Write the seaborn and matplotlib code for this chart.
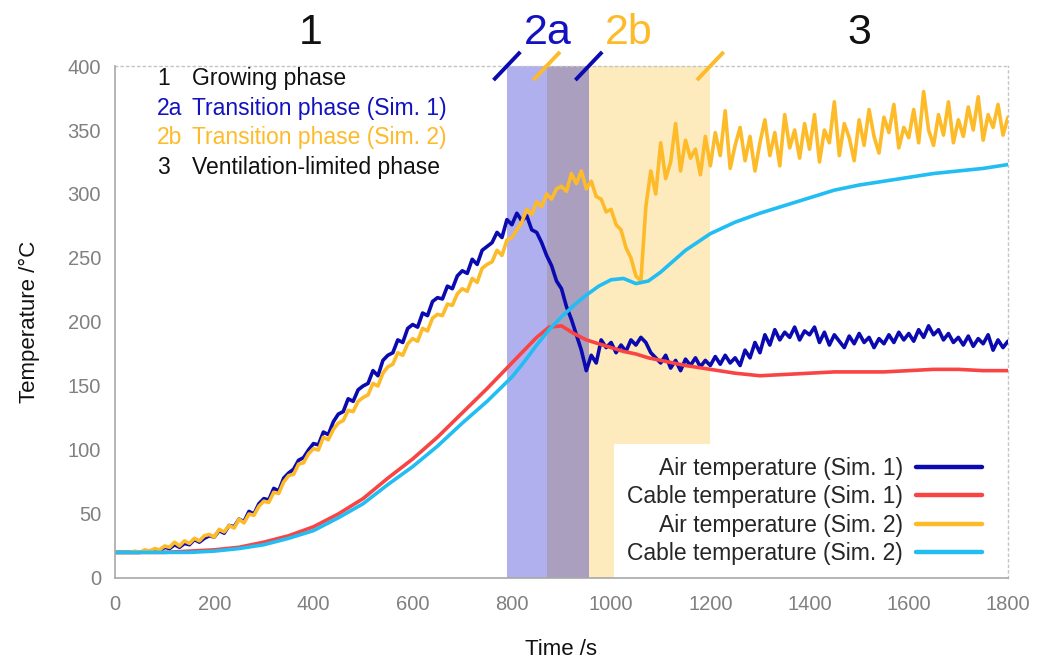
import numpy as np
import pandas as pd
import matplotlib
matplotlib.use("Agg")
import matplotlib.pyplot as plt
import seaborn as sns

# ---------------- data ----------------
t_air = np.arange(0, 1801, 10)
air_sim1 = [
    20, 20, 20, 20, 20, 20, 21, 21, 22, 21,
    24, 23, 26, 24, 27, 26, 30, 28, 31, 33,
    32, 37, 35, 41, 40, 46, 44, 52, 50, 58,
    62, 61, 70, 68, 78, 82, 85, 92, 94, 100,
    105, 104, 114, 112, 122, 128, 130, 140, 138, 147,
    150, 152, 162, 158, 170, 174, 176, 186, 184, 195,
    198, 196, 207, 205, 216, 219, 218, 228, 226, 236,
    240, 238, 249, 245, 256, 259, 262, 270, 266, 280,
    276, 285, 279, 283, 272, 270, 262, 252, 244, 232,
    226, 212, 202, 190, 178, 162, 174, 168, 186, 180,
    184, 176, 182, 177, 186, 182, 188, 184, 176, 172,
    168, 174, 164, 170, 162, 171, 166, 172, 165, 170,
    166, 173, 167, 174, 168, 172, 166, 178, 172, 184,
    176, 190, 182, 194, 186, 192, 188, 196, 186, 193,
    190, 196, 184, 192, 182, 190, 185, 180, 189, 183,
    191, 184, 188, 180, 187, 183, 190, 184, 192, 186,
    191, 185, 194, 188, 197, 190, 194, 186, 191, 184,
    188, 182, 189, 181, 187, 183, 190, 178, 186, 180,
    185,
]
air_sim2 = [
    20, 20, 20, 20, 21, 20, 22, 21, 23, 22,
    25, 24, 28, 25, 29, 27, 31, 29, 33, 34,
    32, 38, 36, 41, 39, 46, 43, 50, 49, 56,
    60, 59, 67, 66, 75, 80, 81, 89, 90, 97,
    101, 100, 110, 108, 116, 121, 123, 131, 130, 138,
    141, 143, 152, 150, 160, 165, 167, 176, 174, 183,
    187, 185, 195, 193, 203, 206, 205, 214, 213, 222,
    226, 224, 234, 231, 242, 245, 247, 256, 252, 264,
    266, 272, 278, 288, 284, 294, 290, 300, 296, 304,
    306, 302, 316, 308, 318, 304, 310, 298, 296, 286,
    288, 276, 272, 258, 250, 236, 232, 290, 318, 300,
    340, 312, 325, 355, 318, 342, 328, 335, 315, 345,
    322, 348, 330, 365, 320, 338, 352, 326, 345, 318,
    340, 358, 330, 348, 322, 362, 336, 350, 328, 355,
    335, 362, 325, 350, 340, 372, 330, 355, 344, 326,
    358, 338, 366, 345, 332, 360, 348, 370, 336, 352,
    344, 366, 340, 380, 350, 338, 362, 346, 372, 340,
    358, 345, 368, 350, 376, 342, 362, 352, 370, 346,
    360,
]
t_cable = [0, 50, 100, 150, 200, 250, 300, 350, 400, 450, 500, 550, 600, 650,
           700, 750, 800, 825, 850, 875, 900, 925, 950, 975, 1000, 1025, 1050,
           1075, 1100, 1150, 1200, 1250, 1300, 1350, 1400, 1450, 1500, 1550,
           1600, 1650, 1700, 1750, 1800]
cable_sim1 = [20, 20, 20, 21, 22, 24, 28, 33, 40, 50, 62, 78, 93, 110,
              129, 148, 168, 178, 188, 196, 197, 191, 186, 183, 180, 177, 175,
              172, 170, 166, 163, 160, 158, 159, 160, 161, 161, 161,
              162, 163, 163, 162, 162]
cable_sim2 = [20, 20, 20, 20, 21, 23, 26, 31, 37, 47, 58, 73, 87, 103,
              121, 138, 157, 169, 182, 194, 204, 213, 221, 228, 233, 234, 230,
              232, 239, 256, 269, 278, 285, 291, 297, 303, 307, 310,
              313, 316, 318, 320, 323]

phase_2a = (790, 955)
phase_2b = (870, 1200)
phase_ids = ["1", "2a", "2b", "3"]
phase_names = ["Growing phase", "Transition phase (Sim. 1)",
               "Transition phase (Sim. 2)", "Ventilation-limited phase"]
series_labels = ["Air temperature (Sim. 1)", "Cable temperature (Sim. 1)",
                 "Air temperature (Sim. 2)", "Cable temperature (Sim. 2)"]
x_ticks = list(range(0, 1801, 200))
y_ticks = list(range(0, 401, 50))

# ---------------- style ----------------
sns.set_style("white")
plt.rcParams["font.family"] = ["Liberation Sans", "DejaVu Sans"]

C_BLUE = "#0a0ab0"
C_RED = "#f94444"
C_YEL = "#fdbb2a"
C_CYAN = "#22bdf2"
C_SPAN_A = "#b0b0ee"
C_SPAN_AB = "#aa9fbf"
C_SPAN_B = "#fdeabd"

fig = plt.figure(figsize=(10.4, 6.62), dpi=100)
ax = fig.add_axes([0.1106, 0.1269, 0.8586, 0.7734])

# phase spans
ax.axvspan(phase_2a[0], phase_2b[0], color=C_SPAN_A, lw=0, zorder=0)
ax.axvspan(phase_2b[0], phase_2a[1], color=C_SPAN_AB, lw=0, zorder=0)
ax.axvspan(phase_2a[1], phase_2b[1], color=C_SPAN_B, lw=0, zorder=0)

df_air = pd.DataFrame({"t": t_air, "s1": air_sim1, "s2": air_sim2})
df_cab = pd.DataFrame({"t": t_cable, "s1": cable_sim1, "s2": cable_sim2})

handles = []
for df, col, color in [(df_air, "s1", C_BLUE), (df_cab, "s1", C_RED),
                       (df_air, "s2", C_YEL), (df_cab, "s2", C_CYAN)]:
    sns.lineplot(data=df, x="t", y=col, color=color, lw=2.6, ax=ax,
                 estimator=None, sort=False, legend=False, zorder=3)
    handles.append(ax.lines[-1])

ax.set_xlim(0, 1800)
ax.set_ylim(0, 400)
ax.set_xticks(x_ticks)
ax.set_yticks(y_ticks)

for s in ["left", "bottom"]:
    ax.spines[s].set_color("#a8a8a8")
    ax.spines[s].set_linewidth(1.2)
    ax.spines[s].set_zorder(5)
for s in ["top", "right"]:
    ax.spines[s].set_color("#c4c4c4")
    ax.spines[s].set_linestyle((0, (1.5, 2.5)))
    ax.spines[s].set_linewidth(1.0)

ax.tick_params(direction="in", length=8, width=1, color="#a8a8a8",
               labelcolor="#808080", labelsize=14.5)
ax.tick_params(axis="x", pad=12)
ax.tick_params(axis="y", pad=10)
ax.set_xlabel("Time /s", fontsize=16, labelpad=18, color="#111111")
ax.set_ylabel("Temperature /°C", fontsize=16, labelpad=20, color="#111111")

# phase boundary marks at the top
for t, color in [(phase_2a[0], C_BLUE), (phase_2a[1], C_BLUE),
                 (phase_2b[0], C_YEL), (phase_2b[1], C_YEL)]:
    ax.plot([t - 27, t + 27], [389, 411], color=color, lw=2.8,
            clip_on=False, solid_capstyle="butt", zorder=5)

# big phase numbers
id_colors = ["#111111", "#1212c0", C_YEL, "#111111"]
id_x = [phase_2a[0] / 2, sum(phase_2a) / 2, sum(phase_2b) / 2,
        (phase_2b[1] + 1800) / 2]
for pid, x, c in zip(phase_ids, id_x, id_colors):
    ax.text(x, 426, pid, ha="center", va="center", fontsize=31, color=c,
            clip_on=False)

# phase description list
for i, (pid, name, c) in enumerate(zip(phase_ids, phase_names, id_colors)):
    y = 390 - i * 23
    ax.text(85, y, pid, ha="left", va="center", fontsize=16.5, color=c, zorder=6)
    ax.text(155, y, name, ha="left", va="center", fontsize=16.5, color=c, zorder=6)

leg = ax.legend(handles, series_labels, loc="lower right",
                bbox_to_anchor=(0.985, 0.0), markerfirst=False,
                fontsize=16.5, handlelength=2.9, handletextpad=0.55,
                labelspacing=0.24, borderpad=0.55, borderaxespad=0.0,
                frameon=True, facecolor="white", edgecolor="none",
                framealpha=1.0, fancybox=False)
leg.set_zorder(4)
for h in leg.legend_handles:
    h.set_linewidth(3.2)

fig.savefig("out.png", dpi=100)
